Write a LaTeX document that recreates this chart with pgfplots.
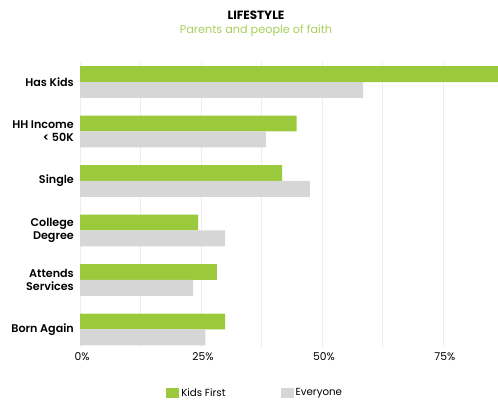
\documentclass[border=0pt]{standalone}
\usepackage{fontspec}
\setmainfont{Poppins}
\newfontfamily\medfont{Poppins SemiBold}
\usepackage{pgfplots}
\pgfplotsset{compat=1.18}
\definecolor{kgreen}{HTML}{9BC93C}
\definecolor{egray}{HTML}{D6D6D6}
\definecolor{gridc}{HTML}{EDEDED}
\definecolor{subgreen}{HTML}{A8CF5A}
\begin{document}
\begin{tikzpicture}[x=1bp,y=1bp]
\useasboundingbox (0,0) rectangle (498,401);
\node[font=\bfseries\fontsize{12}{14}\selectfont] at (256,386) {LIFESTYLE};
\node[text=subgreen, font=\fontsize{11.3}{13}\selectfont] at (256,370) {Parents and people of faith};
\begin{axis}[
  at={(80bp,54bp)}, anchor=south west,
  scale only axis, width=418bp, height=285bp,
  xbar, bar width=0.32,
  xmin=0, xmax=86.4,
  ymin=-0.354, ymax=5.404,
  ytick={0,...,5},
  yticklabels={Born Again, {Attends\\Services}, {College\\Degree}, Single, {HH Income\\< 50K}, Has Kids},
  yticklabel style={align=right, font=\medfont\fontsize{11.2}{13}\selectfont, inner sep=0pt, xshift=-6bp},
  xtick={0,25,50,75}, xticklabels={0\%,25\%,50\%,75\%},
  minor xtick={12.5,37.5,62.5},
  xmajorgrids, xminorgrids,
  grid style={gridc, line width=0.6pt},
  minor grid style={gridc, line width=0.6pt},
  axis line style={draw=none},
  major tick length=0pt, minor tick length=0pt,
  xticklabel style={font=\fontsize{10.8}{12}\selectfont, yshift=-2bp, xshift=2bp},
  legend style={at={(0.419,-0.161)}, anchor=center, draw=none, fill=none,
    legend columns=2, font=\fontsize{10.3}{12}\selectfont,
    /tikz/every even column/.append style={column sep=53bp}},
  legend image code/.code={\fill[#1] (0bp,-5bp) rectangle (13bp,5bp);},
]
\addplot[fill=kgreen, draw=none, bar shift=0.16] coordinates {(30,0) (28.3,1) (24.4,2) (41.8,3) (44.8,4) (95,5)};
\addlegendentry{Kids First}
\addplot[fill=egray, draw=none, bar shift=-0.16] coordinates {(25.9,0) (23.4,1) (30,2) (47.5,3) (38.4,4) (58.5,5)};
\addlegendentry{Everyone}
\end{axis}
\end{tikzpicture}
\end{document}
